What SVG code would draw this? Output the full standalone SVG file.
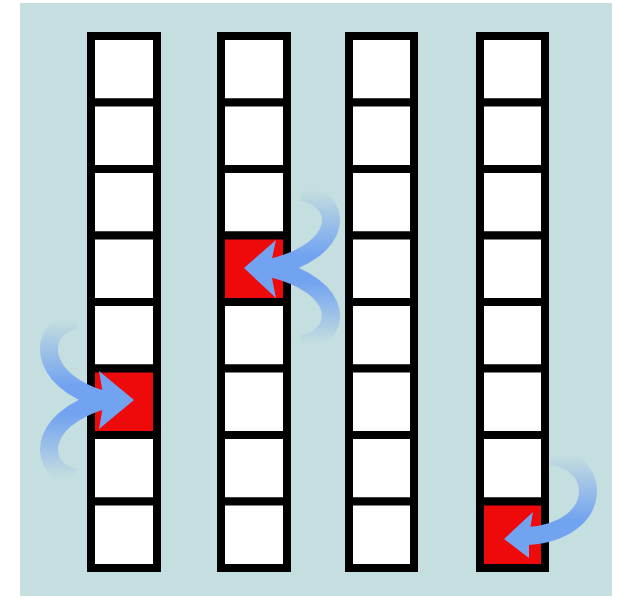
<svg xmlns="http://www.w3.org/2000/svg" width="618" height="599" viewBox="0 0 618 599">
<style>
.cell{fill:#ffffff;stroke:#000;stroke-width:8}
.red{fill:#ee0a0a;stroke:#000;stroke-width:8}
.frame{fill:none;stroke:#000;stroke-width:8;stroke-linejoin:round}
.band{fill:none;stroke-width:18;stroke-linecap:butt}
.head{fill:#72a3f0}
</style>
<defs>
<linearGradient id="g1u" gradientUnits="userSpaceOnUse" x1="0" y1="320" x2="0" y2="385"><stop offset="0" stop-color="#72a3f0" stop-opacity="0"/><stop offset="1" stop-color="#72a3f0"/></linearGradient>
<linearGradient id="g1d" gradientUnits="userSpaceOnUse" x1="0" y1="478" x2="0" y2="415"><stop offset="0" stop-color="#72a3f0" stop-opacity="0"/><stop offset="1" stop-color="#72a3f0"/></linearGradient>
<linearGradient id="g2u" gradientUnits="userSpaceOnUse" x1="0" y1="190" x2="0" y2="255"><stop offset="0" stop-color="#72a3f0" stop-opacity="0"/><stop offset="1" stop-color="#72a3f0"/></linearGradient>
<linearGradient id="g2d" gradientUnits="userSpaceOnUse" x1="0" y1="344" x2="0" y2="282"><stop offset="0" stop-color="#72a3f0" stop-opacity="0"/><stop offset="1" stop-color="#72a3f0"/></linearGradient>
<linearGradient id="g3" gradientUnits="userSpaceOnUse" x1="0" y1="455" x2="0" y2="520"><stop offset="0" stop-color="#72a3f0" stop-opacity="0"/><stop offset="1" stop-color="#72a3f0"/></linearGradient>
</defs>
<rect x="20" y="3" width="592" height="593" fill="#c5dedf"/>
<g id="col1">
<rect class="cell" x="91" y="36" width="66" height="66.5"/>
<rect class="cell" x="91" y="102.5" width="66" height="66.5"/>
<rect class="cell" x="91" y="169" width="66" height="66.5"/>
<rect class="cell" x="91" y="235.5" width="66" height="66.5"/>
<rect class="cell" x="91" y="302" width="66" height="66.5"/>
<rect class="red" x="91" y="368.5" width="66" height="66.5"/>
<rect class="cell" x="91" y="435" width="66" height="66.5"/>
<rect class="cell" x="91" y="501.5" width="66" height="66.5"/>
<rect class="frame" x="91" y="36" width="66" height="532" rx="3"/>
</g>
<g id="col2">
<rect class="cell" x="221" y="36" width="66" height="66.5"/>
<rect class="cell" x="221" y="102.5" width="66" height="66.5"/>
<rect class="cell" x="221" y="169" width="66" height="66.5"/>
<rect class="red" x="221" y="235.5" width="66" height="66.5"/>
<rect class="cell" x="221" y="302" width="66" height="66.5"/>
<rect class="cell" x="221" y="368.5" width="66" height="66.5"/>
<rect class="cell" x="221" y="435" width="66" height="66.5"/>
<rect class="cell" x="221" y="501.5" width="66" height="66.5"/>
<rect class="frame" x="221" y="36" width="66" height="532" rx="3"/>
</g>
<g id="col3">
<rect class="cell" x="349" y="36" width="65" height="66.5"/>
<rect class="cell" x="349" y="102.5" width="65" height="66.5"/>
<rect class="cell" x="349" y="169" width="65" height="66.5"/>
<rect class="cell" x="349" y="235.5" width="65" height="66.5"/>
<rect class="cell" x="349" y="302" width="65" height="66.5"/>
<rect class="cell" x="349" y="368.5" width="65" height="66.5"/>
<rect class="cell" x="349" y="435" width="65" height="66.5"/>
<rect class="cell" x="349" y="501.5" width="65" height="66.5"/>
<rect class="frame" x="349" y="36" width="65" height="532" rx="3"/>
</g>
<g id="col4">
<rect class="cell" x="480" y="36" width="65" height="66.5"/>
<rect class="cell" x="480" y="102.5" width="65" height="66.5"/>
<rect class="cell" x="480" y="169" width="65" height="66.5"/>
<rect class="cell" x="480" y="235.5" width="65" height="66.5"/>
<rect class="cell" x="480" y="302" width="65" height="66.5"/>
<rect class="cell" x="480" y="368.5" width="65" height="66.5"/>
<rect class="cell" x="480" y="435" width="65" height="66.5"/>
<rect class="red" x="480" y="501.5" width="65" height="66.5"/>
<rect class="frame" x="480" y="36" width="65" height="532" rx="3"/>
</g>
<g id="connectors">
<path class="band" stroke="url(#g1u)" d="M76 320 C38 326 34 380 104 400"/>
<path class="band" stroke="url(#g1d)" d="M76 478 C38 472 34 420 104 400"/>
<polygon class="head" points="99,371 134,400 99,429 104,400"/>
<path class="band" stroke="url(#g2u)" d="M302 192 C344 200 346 250 270 268"/>
<path class="band" stroke="url(#g2d)" d="M302 344 C344 336 346 286 270 268"/>
<polygon class="head" points="276,240 244,268 276,298 270,268"/>
<path class="band" stroke="url(#g3)" d="M550 456 C602 460 606 530 528 536"/>
<polygon class="head" points="533,512 504,539 529,558 529,535"/>
</g>
</svg>
